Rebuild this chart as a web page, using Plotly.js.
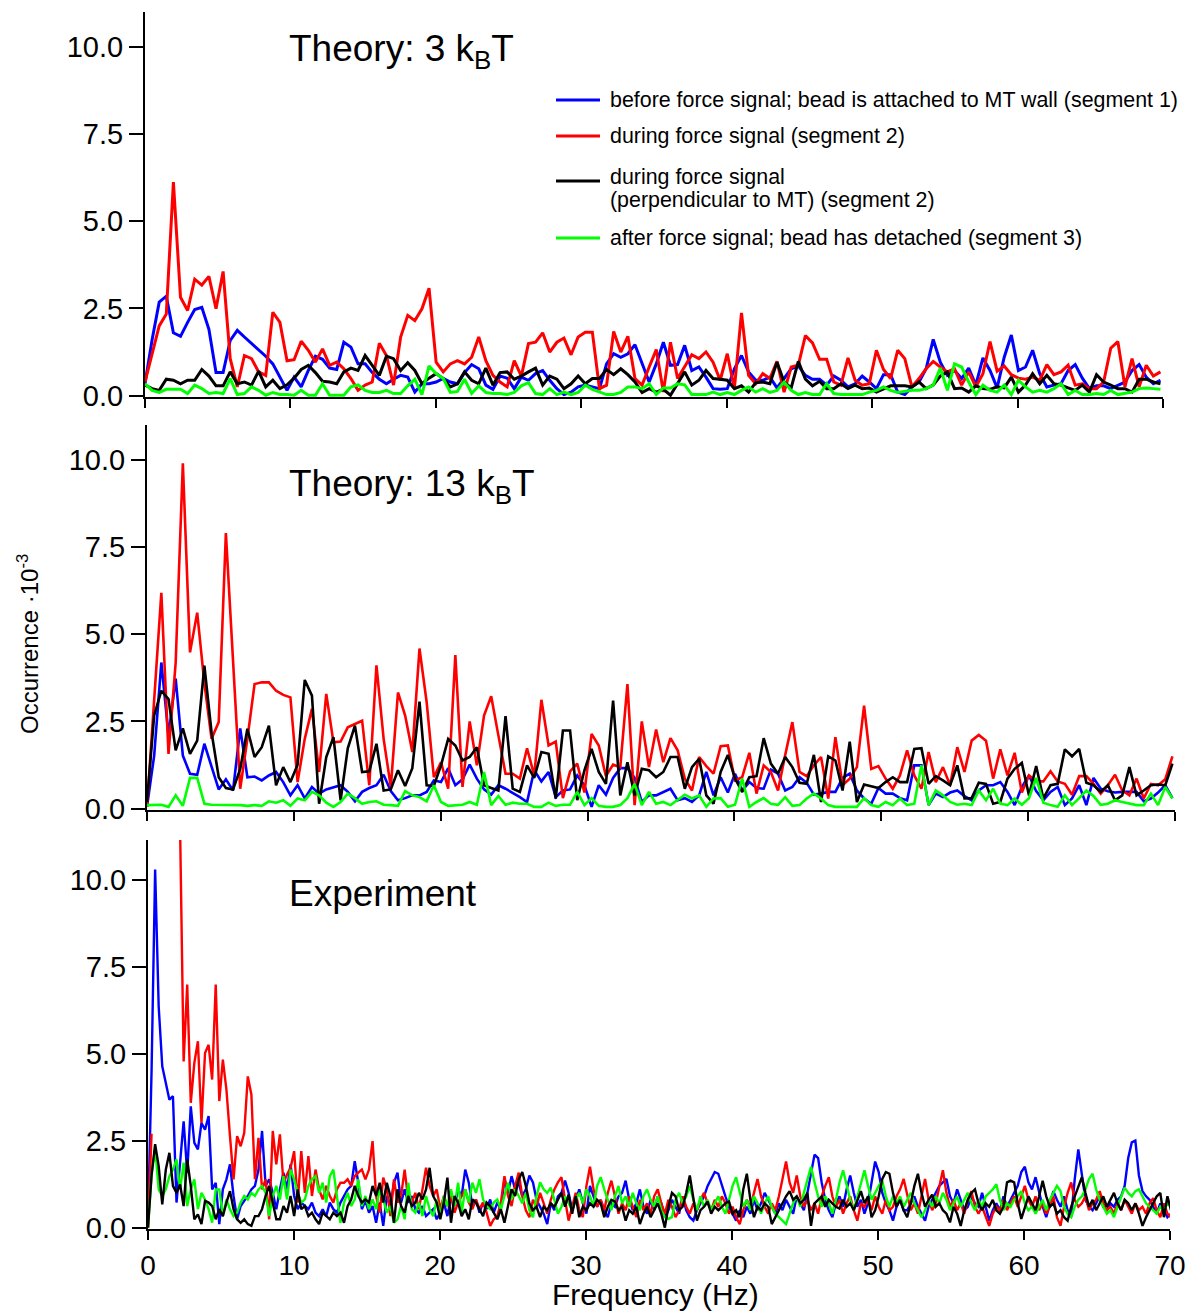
<!DOCTYPE html>
<html>
<head>
<meta charset="utf-8">
<script src="https://cdn.plot.ly/plotly-3.0.1.min.js"></script>
<style>html,body{margin:0;padding:0;background:#fff;}#chart{width:1190px;height:1314px;}</style>
</head>
<body>
<div id="chart"></div>
<script>
// Frequency resolution of the spectra (Hz per bin)
const dfTheory = 0.48828;   // panels 1 and 2
const dfExp = 0.24414;      // panel 3
const nTheory = 144;
const nExp = 288;

const seriesNames = [
  'before force signal; bead is attached to MT wall (segment 1)',
  'during force signal (segment 2)',
  'during force signal<br>(perpendicular to MT) (segment 2)',
  'after force signal; bead has detached (segment 3)'
];
const legendLines = [
  ['before force signal; bead is attached to MT wall (segment 1)'],
  ['during force signal (segment 2)'],
  ['during force signal', '(perpendicular to MT) (segment 2)'],
  ['after force signal; bead has detached (segment 3)']
];
const seriesColors = ['#0000FF', '#FF0000', '#000000', '#00FF00'];
const panelTitles = ['Theory: 3 k<sub>B</sub>T', 'Theory: 13 k<sub>B</sub>T', 'Experiment'];
const yTickVals = [0, 2.5, 5, 7.5, 10];
const xTickVals = [0, 10, 20, 30, 40, 50, 60, 70];

// ---------- Panel 1: Theory 3 kBT ----------
const p1Blue = [0.34,1.6,2.68,2.85,1.8,1.7,2.1,2.47,2.53,1.9,0.66,0.66,1.58,1.87,1.68,1.49,1.3,1.13,0.91,0.53,0.15,0.53,0.25,0.72,1.13,1.04,0.79,0.75,1.53,1.39,0.91,0.91,0.66,0.47,0.34,0.47,0.58,0.53,0.1,0.34,0.34,0.39,0.49,0.39,0.34,0.66,0.89,0.77,0.3,0.18,0.56,0.5,0.2,
0.53,0.44,0.63,0.72,0.44,0.2,0.03,0.1,0.25,0.3,0.25,0.2,0.91,1.2,1.1,1.2,1.46,0.91,0.39,0.91,1.53,0.87,0.89,1.44,0.72,0.82,0.53,0.2,0.18,0.2,0.77,1.15,0.68,0.44,0.44,0.53,0.22,0.49,0.77,0.85,0.58,0.47,0.47,0.3,0.56,0.44,0.25,0.34,0.56,0.39,0.2,0.6,
0.6,0.1,0.03,0.25,0.39,0.77,1.61,0.96,0.58,0.72,0.49,0.79,0.3,1.08,0.72,0.22,1.1,1.74,0.72,0.82,1.3,0.63,0.25,0.3,0.34,0.72,0.89,0.5,0.2,0.28,0.28,0.2,0.3,0.39,0.72,0.89,0.53,0.34,0.44];
const p1Red = [0.39,1.2,2.0,2.34,6.12,2.82,2.44,3.34,3.17,3.42,2.49,3.56,1.06,0.25,1.15,1.06,0.68,0.58,2.39,2.1,1.0,1.03,1.56,1.3,0.96,1.34,0.87,0.96,0.77,0.49,0.15,0.3,0.39,1.5,1.15,0.3,1.68,2.3,2.15,2.49,3.08,0.96,0.68,0.91,1.0,0.91,1.1,1.68,1.0,0.58,0.39,0.25,1.0,
0.56,1.49,1.53,1.8,1.25,1.53,1.65,1.17,1.68,1.82,1.82,0.2,0.3,1.84,1.25,1.7,0.49,0.3,0.82,1.32,0.1,1.53,0.49,0.82,1.17,1.06,1.25,0.96,0.44,1.2,0.2,2.37,0.58,0.34,0.63,0.49,0.98,0.1,0.82,0.87,1.72,1.51,1.04,1.04,0.39,0.3,1.08,0.44,0.3,0.34,1.3,0.75,
0.49,1.3,1.06,0.25,0.49,0.77,0.98,0.82,0.68,0.77,0.3,0.68,0.25,0.63,1.55,0.7,0.85,0.6,0.5,0.47,0.53,0.44,0.89,0.6,0.68,0.87,0.3,0.34,0.2,0.2,0.39,1.36,1.55,0.25,1.06,0.25,0.87,0.56,0.68];
const p1Black = [0.3,0.2,0.15,0.47,0.44,0.34,0.44,0.44,0.75,0.56,0.28,0.28,0.68,0.34,0.39,0.3,0.7,0.25,0.44,0.2,0.31,0.5,0.75,0.87,0.66,0.41,0.39,0.34,0.68,0.79,0.72,1.15,0.87,0.58,1.13,1.06,0.72,0.94,0.72,0.34,0.5,0.63,0.49,0.25,0.34,0.68,0.44,0.34,0.79,0.3,0.66,0.68,0.47,
0.56,0.68,0.79,0.3,0.56,0.47,0.2,0.34,0.56,0.34,0.49,0.49,0.75,0.6,0.77,0.6,0.39,0.09,0.2,0.1,0.18,0.01,0.34,0.68,0.3,0.44,0.72,0.49,0.47,0.44,0.2,0.28,0.1,0.37,0.39,0.34,0.96,0.39,0.22,0.98,0.47,0.28,0.41,0.2,0.2,0.34,0.2,0.3,0.2,0.22,0.1,0.2,
0.28,0.28,0.28,0.25,0.39,0.2,0.3,0.56,0.68,0.2,0.22,0.1,0.28,0.2,0.18,0.25,0.22,0.53,0.1,0.3,0.63,0.34,0.58,0.34,0.3,0.22,0.15,0.3,0.1,0.6,0.39,0.3,0.2,0.2,0.1,0.47,0.47,0.39,0.34];
const p1Green = [0.34,0.15,0.09,0.18,0.18,0.18,0.06,0.3,0.2,0.06,0.09,0.06,0.49,0.03,0.06,0.25,0.15,0.01,0.09,0.03,0.03,0.01,0.15,0.01,0.01,0.34,0.01,0.01,0.01,0.25,0.31,0.15,0.09,0.09,0.15,0.06,0.06,0.28,0.47,0.03,0.85,0.63,0.49,0.09,0.12,0.47,0.06,0.28,0.09,0.06,0.06,0.03,0.09,
0.28,0.37,0.06,0.03,0.2,0.03,0.1,0.03,0.09,0.3,0.18,0.1,0.03,0.03,0.09,0.25,0.25,0.2,0.34,0.03,0.22,0.22,0.34,0.31,0.03,0.03,0.03,0.1,0.03,0.09,0.03,0.15,0.25,0.1,0.2,0.09,0.15,0.39,0.15,0.03,0.09,0.03,0.03,0.34,0.06,0.03,0.03,0.03,0.03,0.1,0.15,0.25,
0.15,0.09,0.12,0.15,0.15,0.2,0.3,0.79,0.15,0.91,0.82,0.39,0.03,0.3,0.15,0.1,0.3,0.03,0.44,0.25,0.1,0.15,0.1,0.2,0.34,0.03,0.15,0.03,0.03,0.06,0.03,0.15,0.03,0.06,0.1,0.2,0.22,0.2,0.18];

// ---------- Panel 2: Theory 13 kBT ----------
const p2Blue = [0.05,1.52,4.19,2.1,3.73,1.52,1.0,0.97,1.86,1.19,0.55,0.84,0.52,2.3,0.9,0.92,0.81,0.95,1.05,0.76,0.38,0.67,0.29,0.62,0.43,0.55,0.62,0.67,0.48,0.21,0.48,0.59,0.67,0.97,0.5,0.24,0.3,0.38,0.38,0.48,0.81,0.76,1.16,0.67,0.84,1.26,0.86,0.55,0.4,0.67,0.57,0.46,0.33,
0.19,1.1,0.78,1.05,0.33,0.52,0.55,0.95,0.67,0.05,0.67,0.4,0.88,1.16,1.16,0.88,0.19,0.38,0.38,0.48,0.57,0.24,0.3,0.19,0.38,1.05,0.38,0.9,0.46,1.0,0.52,0.76,0.59,0.57,1.12,1.0,0.52,0.62,0.9,0.74,0.4,0.43,0.48,0.48,0.88,1.0,0.52,0.29,0.14,0.59,0.43,
0.43,0.3,0.24,1.24,1.24,0.1,0.43,0.33,0.46,0.52,0.36,0.24,0.52,0.67,0.67,0.76,0.48,0.1,0.62,0.95,0.5,0.24,0.48,0.62,0.1,0.29,0.67,0.1,0.88,0.57,0.5,0.46,0.48,0.48,0.48,0.21,0.29,0.46,0.67,0.3];
const p2Red = [0.05,3.1,6.19,1.57,4.19,9.9,4.48,5.62,3.6,2.0,2.48,7.9,4.2,0.57,2.0,3.57,3.62,3.62,3.38,3.26,3.19,0.76,2.0,2.86,1.05,3.29,1.9,1.92,2.33,2.43,2.52,0.67,4.11,2.0,0.62,3.33,2.67,1.62,4.59,3.05,0.9,1.33,0.57,4.4,0.62,2.5,1.24,2.67,3.22,2.1,1.0,1.0,0.86,
1.73,0.95,3.12,1.81,1.92,0.3,1.07,1.29,0.46,2.14,1.81,0.93,1.26,1.19,3.57,0.1,2.5,1.19,2.27,1.33,2.02,1.67,0.86,0.52,1.48,1.22,1.0,1.79,1.81,0.81,0.9,1.6,0.43,1.24,1.05,0.52,1.54,2.48,1.05,0.93,1.24,1.48,0.29,2.05,0.67,0.86,1.19,2.95,1.14,1.22,0.86,
0.57,0.95,1.67,0.95,0.57,1.62,0.76,1.19,0.67,1.76,1.05,1.95,2.11,1.95,0.86,1.7,0.95,1.6,0.46,0.95,0.78,0.78,1.07,0.78,0.71,0.4,0.93,0.93,0.71,0.43,0.67,0.97,0.52,0.38,0.86,0.29,0.71,0.67,0.84,1.5];
const p2Black = [0.19,2.67,3.38,3.14,1.67,2.3,1.57,1.95,4.1,2.19,0.9,0.59,0.55,1.14,2.29,1.48,1.76,2.38,0.67,1.19,0.76,1.26,3.69,3.24,0.14,1.48,2.05,0.24,1.73,2.38,1.05,1.07,1.86,0.52,0.55,1.1,0.65,1.16,3.07,0.67,0.65,1.24,2.0,1.81,1.38,1.48,1.76,0.67,0.59,0.52,2.65,0.57,0.48,
1.24,0.88,1.62,1.57,0.29,2.24,2.24,0.24,1.1,1.71,1.05,0.71,3.1,0.38,1.33,0.38,1.14,1.1,0.9,1.05,1.48,1.48,0.57,1.19,1.43,0.38,0.14,1.05,1.54,0.86,0.48,0.9,0.93,2.02,1.29,1.0,1.48,1.19,0.74,0.71,1.54,0.19,1.5,1.38,0.52,1.92,0.19,0.69,0.65,0.59,0.76,
0.9,0.76,0.76,1.71,1.73,0.71,0.93,0.81,0.67,1.24,0.29,0.3,0.74,0.71,0.14,0.19,0.86,1.14,1.31,0.38,1.22,0.29,0.67,0.71,1.7,1.5,1.71,0.74,0.67,0.48,0.67,0.24,0.38,1.19,0.38,0.52,0.67,0.69,0.67,1.29];
const p2Green = [0.1,0.1,0.11,0.05,0.38,0.08,0.88,0.88,0.14,0.11,0.11,0.11,0.1,0.1,0.08,0.1,0.08,0.21,0.17,0.24,0.08,0.29,0.24,0.48,0.38,0.17,0.05,0.19,0.43,0.3,0.14,0.19,0.21,0.11,0.1,0.08,0.5,0.38,0.33,0.21,0.67,0.19,0.08,0.1,0.11,0.19,0.11,1.05,0.1,0.36,0.11,0.17,0.14,
0.14,0.05,0.05,0.17,0.08,0.11,0.11,0.48,0.1,0.3,0.08,0.05,0.05,0.1,0.3,0.71,0.1,0.48,0.14,0.19,0.1,0.24,0.4,0.29,0.38,0.05,0.29,0.3,0.05,0.11,0.86,0.05,0.19,0.3,0.14,0.11,0.33,0.08,0.1,0.29,0.43,0.29,0.1,0.05,0.05,0.05,0.05,0.3,0.1,0.05,0.19,
0.1,0.29,0.1,0.14,1.24,0.1,0.52,0.38,0.19,0.11,0.14,0.1,0.52,0.24,0.57,0.14,0.1,0.29,0.11,0.3,0.88,0.17,0.1,0.05,0.38,0.1,0.3,0.52,0.36,0.11,0.14,0.24,0.19,0.14,0.1,0.1,0.43,0.1,0.62,0.29];

// ---------- Panel 3: Experiment ----------
const p3Blue = [0.2,4.5,10.3,6.36,4.64,4.16,3.68,3.78,0.72,1.87,3.06,1.58,3.49,2.44,2.25,3.01,2.82,3.21,1.1,1.29,0.1,1.1,1.39,1.82,0.91,0.24,0.62,0.77,0.91,1.1,1.2,1.67,2.78,1.2,1.39,1.0,0.53,1.1,1.58,1.1,1.82,0.91,0.53,0.72,0.62,0.53,0.72,0.43,0.33,0.53,0.33,0.72,0.53,0.43,0.72,0.91,1.1,1.2,1.91,1.29,0.53,0.77,0.43,0.62,0.14,0.72,0.05,0.91,0.62,1.29,1.58,0.72,1.1,0.72,0.91,0.53,0.43,0.62,0.33,0.43,0.53,0.24,0.43,0.72,0.33,0.91,0.62,1.1,0.91,1.67,1.29,0.62,0.81,0.43,0.72,0.53,0.81,0.43,0.72,0.53,1.39,1.0,1.48,1.1,1.29,
0.9,1.1,1.5,1.3,0.8,0.6,0.4,0.1,0.7,0.5,0.9,1.0,1.35,1.0,0.5,0.8,1.1,0.7,0.4,1.2,0.9,0.6,0.8,0.5,0.3,0.7,0.6,0.9,1.0,1.35,0.8,0.5,0.7,1.1,0.6,0.4,0.8,0.5,0.9,0.7,0.3,0.5,0.8,0.6,0.4,0.9,0.5,0.3,0.2,0.5,0.7,0.9,1.2,1.4,1.6,1.55,1.2,0.9,0.6,0.4,0.2,0.5,0.3,0.6,0.4,0.8,0.5,0.7,1.0,0.8,0.6,0.4,0.7,0.5,0.8,0.6,0.4,0.9,0.7,0.5,1.0,1.6,2.1,2.0,1.3,0.8,0.5,0.3,0.7,0.9,0.6,1.1,1.5,1.0,0.6,0.8,0.4,0.7,1.3,1.9,1.6,1.0,0.7,0.5,
0.2,0.6,0.8,0.5,0.5,0.7,0.9,0.6,0.4,0.2,0.6,0.8,1.0,1.2,1.3,1.4,0.9,0.7,1.1,0.8,0.5,0.6,0.9,0.7,0.6,1.0,0.6,0.2,0.5,0.7,0.5,0.9,0.6,0.8,1.0,1.2,1.6,1.75,1.3,1.1,1.45,1.0,0.6,0.3,0.7,1.05,0.8,0.6,0.9,0.5,0.3,1.4,2.25,1.5,0.8,0.6,0.5,0.7,0.9,0.6,0.5,0.7,0.6,0.8,0.9,1.2,2.0,2.45,2.5,1.5,1.05,0.9,0.8,0.6,0.4,0.7,0.5,0.3,0.4];
const p3Red = [0,2.7,null,null,null,null,null,null,null,11.5,4.78,6.99,3.59,4.74,5.36,3.01,5.02,5.26,4.26,6.99,3.64,4.83,3.97,2.63,1.39,2.63,2.34,2.73,4.35,3.83,1.39,2.58,1.1,1.39,0.24,2.78,1.82,2.68,1.29,1.53,1.72,2.2,0.72,2.2,1.0,2.06,0.91,1.67,1.1,0.81,1.2,0.91,0.72,1.1,1.29,1.29,1.39,1.2,1.48,1.58,1.67,1.39,1.67,2.49,0.91,0.43,1.44,1.1,0.33,1.39,0.72,0.91,1.67,0.81,0.72,1.0,0.53,1.1,1.72,1.2,0.91,1.1,0.53,0.91,0.62,0.91,0.43,0.72,0.91,1.1,0.72,0.53,0.81,0.53,0.72,0.43,0.05,0.24,0.33,0.72,1.48,0.91,0.62,1.2,1.58,
0.9,0.5,0.3,0.8,0.6,1.0,0.7,0.4,0.8,1.1,1.3,1.45,0.8,0.2,0.6,1.0,0.5,0.3,1.2,1.75,1.1,0.6,0.8,0.5,1.0,1.35,0.9,0.4,0.7,0.5,0.9,0.6,0.3,0.8,0.5,0.7,0.4,0.9,1.1,0.7,0.4,0.8,0.6,0.3,0.5,0.9,0.6,0.4,0.7,0.5,0.8,1.0,0.7,0.5,0.8,0.6,0.9,0.7,0.4,0.6,0.3,0.1,0.5,0.8,0.6,1.0,1.4,0.9,0.6,0.4,0.7,0.5,0.9,1.4,1.9,1.3,1.0,1.5,0.9,0.6,0.8,0.5,0.7,0.4,0.9,1.2,1.45,0.9,0.6,0.8,0.4,0.7,0.9,0.5,0.2,0.7,0.6,0.8,0.5,0.9,0.6,0.4,0.8,0.5,
0.6,0.9,1.1,1.4,0.9,0.5,0.7,0.4,0.9,1.4,0.8,0.5,0.7,1.2,1.65,1.0,0.6,0.8,0.5,0.7,0.4,0.8,1.05,0.6,0.4,0.6,0.3,0.05,0.4,0.6,0.5,0.8,0.5,0.7,0.9,0.6,0.9,1.2,0.8,0.6,0.9,0.5,0.7,0.4,0.6,0.9,0.3,0.05,0.6,1.0,1.3,0.8,0.6,0.7,0.9,0.5,0.7,0.8,1.05,0.7,0.5,0.6,0.4,0.7,0.5,0.8,0.6,0.4,0.7,0.5,0.6,0.4,0.7,0.85,0.5,0.3,0.7,0.4,0.3];
const p3Black = [0,1.5,2.4,1.77,0.67,1.67,2.15,1.2,1.0,1.24,0.62,1.96,1.2,0.24,0.38,0.1,0.77,0.72,0.62,0.24,0.53,0.33,0.72,1.05,0.53,0.24,0.14,0.24,0.1,0.05,0.33,0.33,0.53,0.91,1.2,0.72,0.24,0.24,0.62,0.43,0.91,0.33,1.1,0.53,0.62,0.33,0.43,0.24,0.1,0.43,0.33,0.24,0.43,0.33,0.43,0.14,0.62,0.81,1.2,0.91,0.72,0.81,0.72,1.2,0.91,1.29,0.72,1.29,0.91,0.14,1.1,0.62,0.43,0.91,0.62,0.72,1.0,0.81,1.1,1.72,0.91,0.72,0.24,0.72,1.44,0.14,0.91,0.72,0.33,0.53,0.24,0.81,0.72,0.53,0.33,0.72,0.62,0.43,0.24,0.53,0.14,0.62,1.1,0.91,1.39,
1.6,1.2,0.7,0.5,0.6,0.3,0.6,0.5,0.7,0.6,0.8,1.0,0.6,0.95,0.4,0.9,0.3,0.6,0.5,0.7,0.6,0.8,0.7,0.3,0.6,0.8,0.75,0.5,0.6,0.2,0.5,0.4,0.6,0.1,0.4,0.6,0.3,0.5,0.7,0.4,0.0,0.6,1.0,0.9,0.5,0.6,1.0,1.5,0.8,0.2,0.5,0.6,0.75,0.4,0.6,0.5,0.6,0.7,0.75,0.4,0.5,0.3,1.1,1.55,0.8,0.3,0.6,0.5,0.7,0.6,0.1,0.3,0.5,0.7,0.9,1.05,0.8,0.9,0.7,0.8,1.0,0.05,0.7,0.8,0.9,0.6,0.8,0.7,0.6,0.55,0.8,0.6,0.7,0.5,0.8,1.05,0.7,0.9,0.3,0.5,0.9,1.4,1.6,1.55,
1.0,0.6,0.8,0.5,0.3,0.7,1.2,1.55,1.0,0.6,0.8,0.95,0.6,0.7,0.5,0.4,0.15,0.6,0.4,0.05,0.5,0.8,1.0,1.1,0.7,0.5,0.7,0.6,0.8,0.5,0.4,0.6,1.3,1.35,1.3,0.7,0.25,0.6,0.9,0.7,0.5,0.9,1.35,0.9,0.6,0.7,0.4,0.5,0.3,0.2,0.6,0.9,1.2,1.45,1.0,0.6,0.8,0.5,0.7,0.9,0.6,0.8,1.0,0.7,0.5,0.8,0.7,0.5,0.7,0.4,0.05,0.3,0.5,0.7,0.9,1.0,0.3,0.9,0.5];
const p3Green = [0,1.5,2.3,1.1,0.91,1.1,1.48,1.67,1.96,1.1,1.87,0.62,1.1,1.39,0.53,1.0,0.81,0.53,0.14,1.1,1.1,0.33,0.81,0.53,0.33,0.43,0.72,0.91,0.81,1.0,0.91,1.1,1.2,1.0,0.33,0.91,1.2,0.81,1.48,0.81,1.67,1.39,1.0,0.72,0.81,1.2,1.39,1.48,1.0,1.29,0.72,1.48,1.67,0.91,0.14,0.72,1.0,0.62,0.81,1.39,0.62,0.91,0.53,0.81,0.53,1.1,0.81,0.43,0.62,0.14,0.24,0.62,0.24,1.29,0.53,0.43,0.72,0.33,0.91,0.53,0.33,0.81,0.33,0.91,0.62,1.1,0.62,1.29,0.43,1.1,0.72,1.29,1.0,1.39,0.81,0.62,0.53,0.72,0.81,0.53,0.91,1.29,0.81,1.1,0.91,
0.7,1.0,0.5,0.3,0.9,1.3,1.1,1.0,1.15,0.8,0.4,0.6,0.9,0.7,0.5,0.8,1.0,0.7,1.1,0.9,0.6,1.2,1.45,1.1,0.8,0.5,0.9,1.2,0.7,0.9,0.6,1.0,0.7,0.5,0.9,1.1,0.8,0.6,0.9,0.5,0.3,0.25,0.3,0.8,1.0,0.7,0.9,1.2,0.8,0.5,0.9,0.6,0.8,0.5,0.7,0.9,0.6,0.4,0.8,1.2,1.45,1.0,0.6,0.8,0.5,0.9,0.7,0.4,0.7,0.9,0.6,0.4,0.3,0.2,0.1,0.4,0.7,0.9,0.6,1.0,1.4,1.75,1.3,0.9,0.6,0.9,0.7,0.4,0.8,1.3,1.65,1.2,0.8,0.5,0.9,1.3,1.65,1.2,0.8,1.0,1.2,1.35,0.9,0.6,
0.9,0.7,0.9,0.6,0.8,1.0,0.7,0.5,0.3,0.5,0.8,0.6,0.9,0.7,1.0,0.8,0.5,0.7,0.9,0.6,0.8,1.0,0.7,0.5,0.8,0.6,0.9,1.0,1.1,1.25,0.8,0.5,0.7,0.6,0.8,0.9,1.05,0.7,0.5,0.6,0.4,0.6,0.8,0.5,0.8,1.0,1.2,1.05,0.6,0.4,0.3,0.6,0.8,0.9,1.1,1.4,1.55,1.1,0.8,0.6,0.4,0.5,0.3,0.6,0.9,1.15,1.0,0.9,1.05,1.1,0.9,0.7,0.6,0.5,0.4,0.6,0.5,0.7,0.6];

const freqTheory = Array.from({length: nTheory}, (_, k) => +(k * dfTheory).toFixed(4));
const freqExp = Array.from({length: nExp}, (_, k) => +(k * dfExp).toFixed(4));

const FONT = 'Liberation Sans, Arial, Helvetica, sans-serif';
const W = 1190, H = 1314;
const px = v => v / W;
const py = v => 1 - v / H;

const panels = [
  {x: freqTheory, ys: [p1Blue, p1Red, p1Black, p1Green], order: [0,1,2,3], width: 3.0, ax: '', ymax: 11.0,
   xdom: [px(145), px(1163)], ydom: [py(397), py(12)]},
  {x: freqTheory, ys: [p2Blue, p2Red, p2Black, p2Green], order: [0,1,2,3], width: 2.6, ax: '2', ymax: 11.0,
   xdom: [px(147), px(1175)], ydom: [py(810), py(425)]},
  {x: freqExp, ys: [p3Blue, p3Red, p3Black, p3Green], order: [0,1,3,2], width: 2.4, ax: '3', ymax: 11.15,
   xdom: [px(148), px(1170)], ydom: [py(1229), py(840)]}
];

const traces = [];
panels.forEach((p, pi) => {
  p.order.forEach(si => {
    traces.push({
      type: 'scatter', mode: 'lines',
      x: p.x, y: p.ys[si],
      name: seriesNames[si],
      showlegend: false,
      line: {color: seriesColors[si], width: p.width},
      xaxis: 'x' + p.ax, yaxis: 'y' + p.ax,
      hoverinfo: 'skip'
    });
  });
});

const layout = {
  width: W, height: H,
  margin: {l: 0, r: 0, t: 0, b: 0},
  paper_bgcolor: '#ffffff', plot_bgcolor: '#ffffff',
  font: {family: FONT, color: '#000', size: 21},
  showlegend: false,
  annotations: [],
  shapes: []
};

panels.forEach((p, pi) => {
  layout['xaxis' + p.ax] = {
    domain: p.xdom, range: [0, 70], anchor: 'y' + p.ax,
    tickvals: xTickVals, ticks: 'outside', ticklen: 9, tickwidth: 2, tickcolor: '#000',
    showticklabels: pi === 2, ticklabelstandoff: 1,
    tickfont: {family: FONT, size: 28, color: '#000'},
    showline: true, linewidth: 2, linecolor: '#000',
    showgrid: false, zeroline: false, fixedrange: true
  };
  layout['yaxis' + p.ax] = {
    domain: p.ydom, range: [-0.04, p.ymax], anchor: 'x' + p.ax,
    tickvals: yTickVals, tickformat: '.1f', ticks: 'outside', ticklen: 14, tickwidth: 2, tickcolor: '#000',
    tickfont: {family: FONT, size: 29, color: '#000'},
    showline: true, linewidth: 2, linecolor: '#000',
    showgrid: false, zeroline: false, fixedrange: true
  };
});

// Legend (drawn in the first panel)
const legendSymbolY = [100, 136, 181, 238];
const legendTextY = [[100], [136], [177, 200], [238]];
legendLines.forEach((lines, i) => {
  layout.shapes.push({
    type: 'line', xref: 'paper', yref: 'paper',
    x0: px(556), x1: px(600), y0: py(legendSymbolY[i]), y1: py(legendSymbolY[i]),
    line: {color: seriesColors[i], width: 3}
  });
  lines.forEach((t, j) => {
    layout.annotations.push({
      text: t, xref: 'paper', yref: 'paper', x: px(608), y: py(legendTextY[i][j]),
      xanchor: 'left', yanchor: 'middle', showarrow: false,
      font: {family: FONT, size: 21.4, color: '#000'}
    });
  });
});

const titleY = [51, 486, 893];
panelTitles.forEach((t, i) => {
  layout.annotations.push({
    text: t, xref: 'paper', yref: 'paper', x: px(287), y: py(titleY[i]),
    xanchor: 'left', yanchor: 'middle', showarrow: false,
    font: {family: FONT, size: 37, color: '#000'}
  });
});
layout.annotations.push({
  text: 'Occurrence ·10<sup>-3</sup>', xref: 'paper', yref: 'paper',
  x: px(28), y: py(644), xanchor: 'center', yanchor: 'middle', textangle: -90,
  showarrow: false, font: {family: FONT, size: 24, color: '#000'}
});
layout.annotations.push({
  text: 'Frequency (Hz)', xref: 'paper', yref: 'paper',
  x: px(655), y: py(1294), xanchor: 'center', yanchor: 'middle',
  showarrow: false, font: {family: FONT, size: 30, color: '#000'}
});

Plotly.newPlot('chart', traces, layout, {staticPlot: true, displayModeBar: false});
</script>
</body>
</html>
